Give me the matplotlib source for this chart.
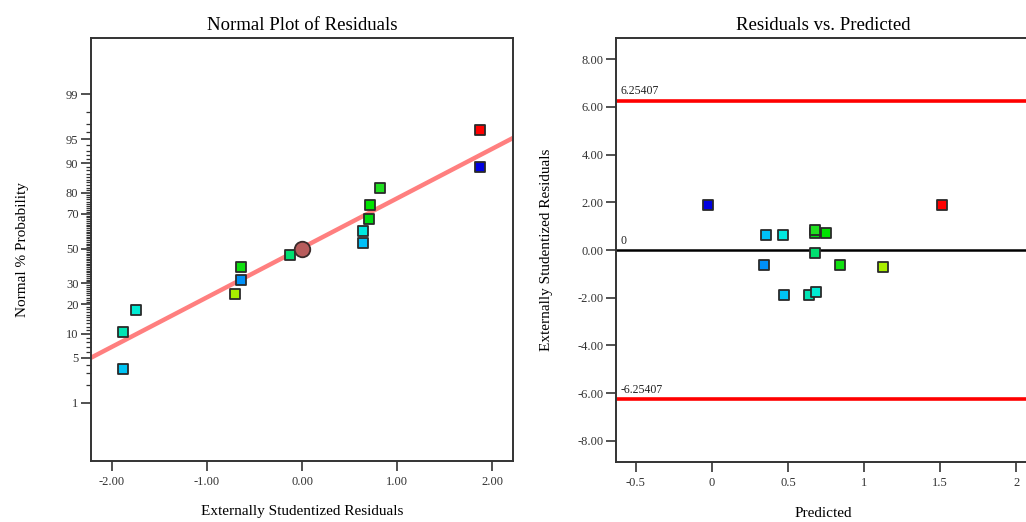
import numpy as np
import matplotlib
matplotlib.use('Agg')
import matplotlib.pyplot as plt
from statistics import NormalDist

# residual data (same runs in both panels)
residuals = [-1.88, -1.88, -1.75, -0.70, -0.64, -0.64, -0.13, 0.64, 0.64, 0.70, 0.72, 0.82, 1.87, 1.87]
normal_pct = [3.5, 10.5, 17.6, 24.6, 31.6, 38.8, 46.0, 53.3, 60.2, 67.4, 74.6, 81.8, 89.0, 96.3]
predicted = [0.475, 0.635, 0.681, 1.125, 0.344, 0.843, 0.679, 0.352, 0.464, 0.679, 0.751, 0.679, -0.026, 1.513]
colors = ['#00c4f4', '#00e4b4', '#00ecd4', '#a8ee00', '#0090f8', '#10e010', '#00e070',
          '#00c0f8', '#00e8e0', '#00dc10', '#00e400', '#20e020', '#0000e0', '#ff0000']

center_x, center_pct = 0.0, 50.0
fit_x = [-2.22, 2.22]
fit_pct = [5.0, 95.2]

pct_major = [1, 5, 10, 20, 30, 50, 70, 80, 90, 95, 99]
limit = 6.25407

plt.rcParams['font.family'] = ['Liberation Serif', 'DejaVu Serif']
nd = NormalDist()
z = lambda p: [nd.inv_cdf(v / 100.0) for v in p]

W, H = 1026, 522
fig = plt.figure(figsize=(W / 100, H / 100), dpi=100)

def box(l, t, r, b):
    return [l / W, 1 - b / H, (r - l) / W, (b - t) / H]

ax1 = fig.add_axes(box(91, 38, 513, 461))
ax2 = fig.add_axes(box(616, 38, 1030, 462))

# left: normal plot
ax1.plot(fit_x, z(fit_pct), color='#ff7f7f', lw=3.2, solid_capstyle='butt', zorder=2)
ax1.scatter(residuals, z(normal_pct), marker='s', s=52, c=colors, edgecolors='#2a2a2a', linewidths=1.3, zorder=3)
ax1.scatter([center_x], z([center_pct]), marker='o', s=125, c='#b85c5c', edgecolors='#3a2a2a', linewidths=1.3, zorder=4)
ax1.set_xlim(-2.22, 2.22)
ax1.set_ylim(-3.2, 3.17)
ax1.set_xticks([-2, -1, 0, 1, 2])
ax1.set_xticklabels(['-2.00', '-1.00', '0.00', '1.00', '2.00'])
ax1.set_yticks(z(pct_major))
ax1.set_yticklabels([str(p) for p in pct_major])
ax1.set_yticks(z([p for p in range(1, 100) if p not in pct_major]), minor=True)
ax1.set_title('Normal Plot of Residuals', fontsize=13.5, pad=6)
ax1.set_xlabel('Externally Studentized Residuals', fontsize=11)
ax1.set_ylabel('Normal % Probability', fontsize=11)
ax1.xaxis.set_label_coords(0.5, -0.104)
ax1.yaxis.set_label_coords(-0.147, 0.5)

# right: residuals vs predicted
ax2.axhline(limit, color='#ff0000', lw=2.6, zorder=2)
ax2.axhline(-limit, color='#ff0000', lw=2.6, zorder=2)
ax2.axhline(0, color='#000000', lw=1.8, zorder=2)
ax2.scatter(predicted, residuals, marker='s', s=52, c=colors, edgecolors='#2a2a2a', linewidths=1.3, zorder=3)
ax2.set_xlim(-0.631, 2.09)
ax2.set_ylim(-8.88, 8.88)
ax2.set_xticks([-0.5, 0, 0.5, 1, 1.5, 2])
ax2.set_xticklabels(['-0.5', '0', '0.5', '1', '1.5', '2'])
ax2.set_yticks(np.arange(-8, 9, 2))
ax2.set_yticklabels(['%.2f' % v for v in np.arange(-8, 9, 2)])
for val, lab in [(limit, '6.25407'), (-limit, '-6.25407'), (0, '0')]:
    ax2.annotate(lab, (-0.631, val), xytext=(3, 2.5), textcoords='offset points',
                 fontsize=8.5, color='#222222', va='bottom', ha='left')
ax2.set_title('Residuals vs. Predicted', fontsize=13.5, pad=6)
ax2.set_xlabel('Predicted', fontsize=11)
ax2.set_ylabel('Externally Studentized Residuals', fontsize=11)
ax2.xaxis.set_label_coords(0.5, -0.106)
ax2.yaxis.set_label_coords(-0.152, 0.5)

for ax in (ax1, ax2):
    for s in ax.spines.values():
        s.set_linewidth(1.4)
        s.set_color('#333333')
    ax.tick_params(which='major', length=7, width=1.2, color='#333333', labelsize=9,
                   labelcolor='#333333')
    ax.tick_params(axis='x', which='major', pad=4)
    ax.tick_params(axis='y', which='major', pad=2)
    ax.tick_params(which='minor', length=3.5, width=0.9, color='#333333')

fig.savefig('out.png', dpi=100)
